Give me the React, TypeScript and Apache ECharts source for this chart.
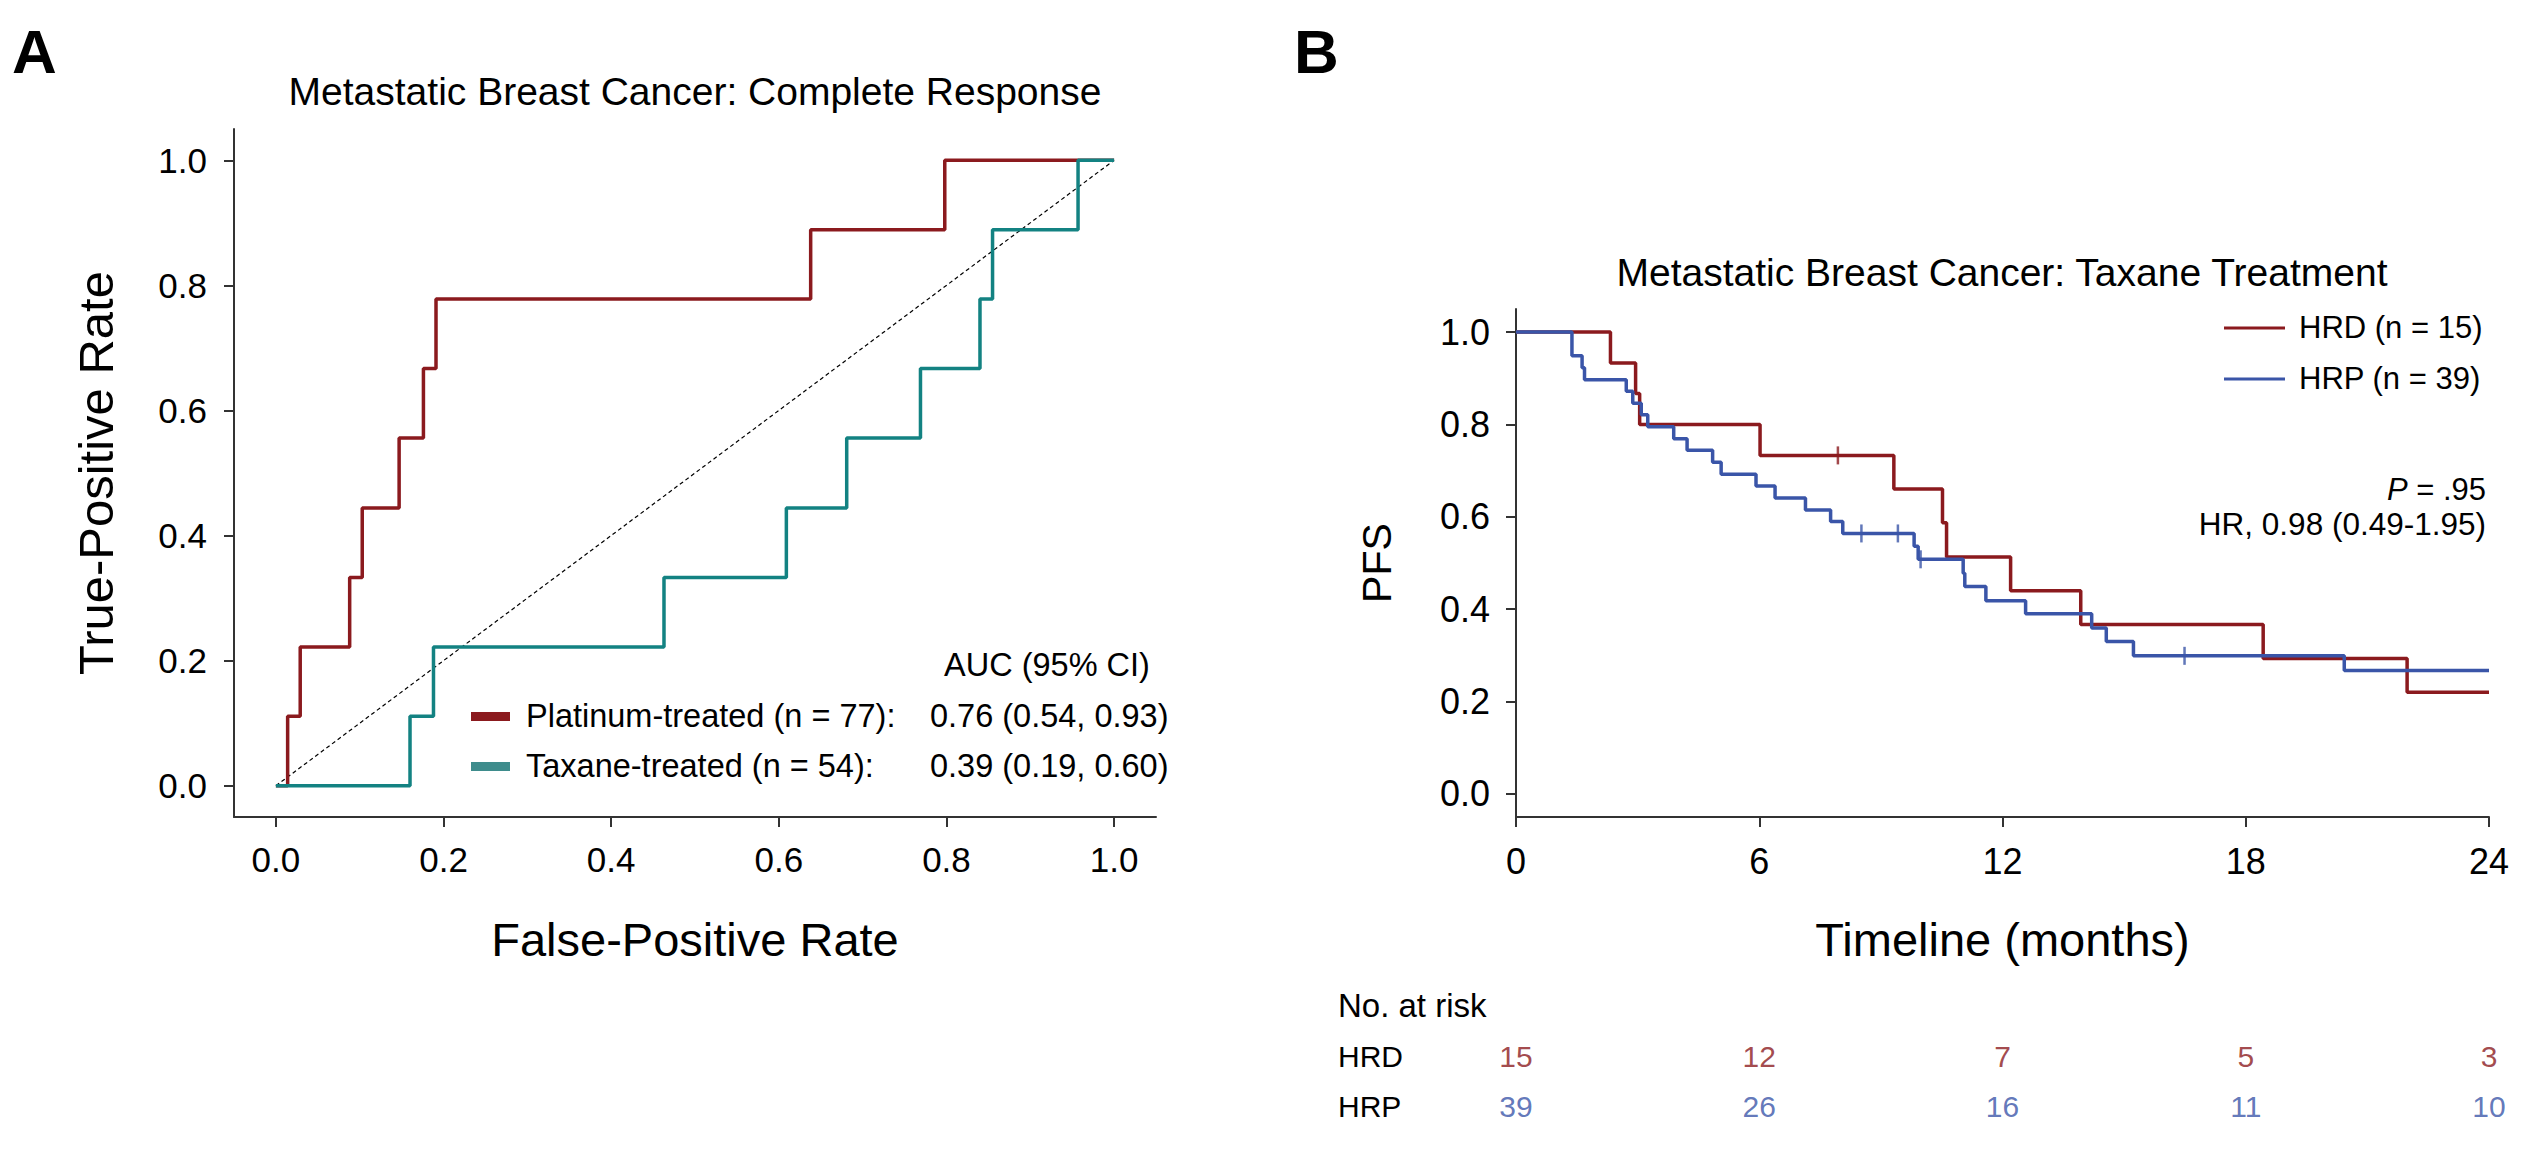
import React, { useEffect, useRef } from "react";
import * as echarts from "echarts";

// ---------- data ----------
const rocTicks = [0, 0.2, 0.4, 0.6, 0.8, 1.0];
const platinumRoc: number[][] = [
  [0, 0], [0.014, 0.111], [0.029, 0.222], [0.088, 0.333], [0.103, 0.444],
  [0.147, 0.556], [0.176, 0.667], [0.191, 0.778], [0.638, 0.889], [0.798, 1.0], [1.0, 1.0],
];
const taxaneRoc: number[][] = [
  [0, 0], [0.16, 0.111], [0.188, 0.222], [0.463, 0.333], [0.609, 0.444],
  [0.681, 0.556], [0.769, 0.667], [0.84, 0.778], [0.855, 0.889], [0.957, 1.0], [1.0, 1.0],
];
const chanceLine: number[][] = [[0, 0], [1, 1]];
const rocNames = ["Platinum-treated (n = 77):", "Taxane-treated (n = 54):"];
const rocAuc = ["0.76 (0.54, 0.93)", "0.39 (0.19, 0.60)"];

const pfsTicks = [0, 0.2, 0.4, 0.6, 0.8, 1.0];
const hrdCurve: number[][] = [
  [0, 1.0], [2.33, 0.933], [2.95, 0.867], [3.05, 0.8], [6.02, 0.733], [9.32, 0.66],
  [10.52, 0.587], [10.62, 0.513], [12.2, 0.44], [13.93, 0.367], [18.43, 0.293],
  [21.98, 0.22], [24, 0.22],
];
const hrpCurve: number[][] = [
  [0, 1.0], [1.38, 0.949], [1.63, 0.923], [1.69, 0.897], [2.72, 0.872], [2.88, 0.846],
  [3.09, 0.821], [3.25, 0.795], [3.89, 0.769], [4.22, 0.744], [4.85, 0.718], [5.06, 0.692],
  [5.92, 0.667], [6.39, 0.641], [7.14, 0.615], [7.76, 0.59], [8.06, 0.564], [9.82, 0.536],
  [9.92, 0.508], [11.03, 0.478], [11.07, 0.449], [11.59, 0.418], [12.57, 0.39],
  [14.2, 0.359], [14.56, 0.33], [15.23, 0.299], [20.43, 0.267], [24, 0.267],
];
const hrdCensor: number[][] = [[7.94, 0.733]];
const hrpCensor: number[][] = [[8.52, 0.564], [9.42, 0.564], [9.98, 0.508], [16.49, 0.299]];
const kmNames = ["HRD (n = 15)", "HRP (n = 39)"];
const riskRows = ["HRD", "HRP"];
const riskTimes = [0, 6, 12, 18, 24];
const hrdAtRisk = [15, 12, 7, 5, 3];
const hrpAtRisk = [39, 26, 16, 11, 10];

// ---------- styles ----------
const FONT = "'Liberation Sans', Arial, Helvetica, sans-serif";
const RED = "#8B1A1E";
const TEAL = "#138282";
const TEAL_SW = "#3E8C8C";
const BLUE = "#3A55A8";
const AXIS = "#333333";

export default function App() {
  const ref = useRef<HTMLDivElement>(null);

  useEffect(() => {
    if (!ref.current) return;
    const chart = echarts.init(ref.current, undefined, { renderer: "svg" });

    const axisLineStyle = { show: true, onZero: false, lineStyle: { color: AXIS, width: 2 } };
    const tickStyle = { show: true, length: 10, lineStyle: { color: AXIS, width: 2 } };
    const fmt1 = (v: number) => v.toFixed(1);

    const option: any = {
      animation: false,
      backgroundColor: "#ffffff",
      textStyle: { fontFamily: FONT },
      grid: [
        { left: 234, top: 129, width: 922, height: 688 },
        { left: 1516, top: 309, width: 973, height: 508 },
        { left: 1516, top: 1031, width: 973, height: 100 },
      ],
      xAxis: [
        {
          gridIndex: 0, type: "value", min: -0.05, max: 1.05,
          axisLine: axisLineStyle,
          axisTick: { ...tickStyle, customValues: rocTicks },
          axisLabel: { customValues: rocTicks, formatter: fmt1, fontSize: 35, color: "#000", margin: 25, fontFamily: FONT },
          splitLine: { show: false },
          name: "False-Positive Rate", nameLocation: "middle", nameGap: 99,
          nameTextStyle: { fontSize: 47, color: "#000", fontFamily: FONT },
        },
        {
          gridIndex: 1, type: "value", min: 0, max: 24, interval: 6,
          axisLine: axisLineStyle,
          axisTick: tickStyle,
          axisLabel: { fontSize: 36, color: "#000", margin: 26, fontFamily: FONT },
          splitLine: { show: false },
          name: "Timeline (months)", nameLocation: "middle", nameGap: 99,
          nameTextStyle: { fontSize: 47, color: "#000", fontFamily: FONT },
        },
        { gridIndex: 2, type: "value", min: 0, max: 24, show: false },
      ],
      yAxis: [
        {
          gridIndex: 0, type: "value", min: -0.05, max: 1.05,
          axisLine: axisLineStyle,
          axisTick: { ...tickStyle, customValues: rocTicks },
          axisLabel: { customValues: rocTicks, formatter: fmt1, fontSize: 35, color: "#000", margin: 27, fontFamily: FONT },
          splitLine: { show: false },
          name: "True-Positive Rate", nameLocation: "middle", nameGap: 114,
          nameTextStyle: { fontSize: 49, color: "#000", fontFamily: FONT },
        },
        {
          gridIndex: 1, type: "value", min: -0.05, max: 1.05,
          axisLine: axisLineStyle,
          axisTick: { ...tickStyle, customValues: pfsTicks },
          axisLabel: { customValues: pfsTicks, formatter: fmt1, fontSize: 36, color: "#000", margin: 26, fontFamily: FONT },
          splitLine: { show: false },
          name: "PFS", nameLocation: "middle", nameGap: 119,
          nameTextStyle: { fontSize: 41, color: "#000", fontFamily: FONT },
        },
        {
          gridIndex: 2, type: "category", data: riskRows, inverse: true,
          axisLine: { show: false }, axisTick: { show: false }, splitLine: { show: false },
          axisLabel: { align: "left", margin: 178, fontSize: 30, color: "#000", fontFamily: FONT },
        },
      ],
      series: [
        {
          type: "line", xAxisIndex: 0, yAxisIndex: 0, data: chanceLine, showSymbol: false,
          lineStyle: { color: "#000", width: 1.2, type: [4, 3] }, silent: true,
        },
        {
          name: "Platinum", type: "line", xAxisIndex: 0, yAxisIndex: 0, data: platinumRoc,
          step: "end", showSymbol: false, lineStyle: { color: RED, width: 3.5 },
        },
        {
          name: "Taxane", type: "line", xAxisIndex: 0, yAxisIndex: 0, data: taxaneRoc,
          step: "end", showSymbol: false, lineStyle: { color: TEAL, width: 3.5 },
        },
        {
          name: "HRD", type: "line", xAxisIndex: 1, yAxisIndex: 1, data: hrdCurve,
          step: "end", showSymbol: false, lineStyle: { color: RED, width: 3.5 },
        },
        {
          name: "HRP", type: "line", xAxisIndex: 1, yAxisIndex: 1, data: hrpCurve,
          step: "end", showSymbol: false, lineStyle: { color: BLUE, width: 3.5 },
        },
        {
          type: "scatter", xAxisIndex: 1, yAxisIndex: 1, data: hrdCensor,
          symbol: "rect", symbolSize: [2.5, 18], itemStyle: { color: RED },
        },
        {
          type: "scatter", xAxisIndex: 1, yAxisIndex: 1, data: hrpCensor,
          symbol: "rect", symbolSize: [2.5, 18], itemStyle: { color: BLUE },
        },
        {
          type: "scatter", xAxisIndex: 2, yAxisIndex: 2,
          data: riskTimes.map((t, i) => [t, riskRows[0], hrdAtRisk[i]]),
          symbolSize: 1, itemStyle: { color: "rgba(0,0,0,0)" },
          label: { show: true, position: "inside", formatter: (p: any) => String(p.value[2]), color: RED, fontSize: 30, fontFamily: FONT, textBorderWidth: 0 },
        },
        {
          type: "scatter", xAxisIndex: 2, yAxisIndex: 2,
          data: riskTimes.map((t, i) => [t, riskRows[1], hrpAtRisk[i]]),
          symbolSize: 1, itemStyle: { color: "rgba(0,0,0,0)" },
          label: { show: true, position: "inside", formatter: (p: any) => String(p.value[2]), color: BLUE, fontSize: 30, fontFamily: FONT, textBorderWidth: 0 },
        },
      ],
      graphic: [
        { type: "text", left: 12, top: 20, style: { text: "A", fontSize: 62, fontWeight: "bold", fontFamily: FONT, fill: "#000" } },
        { type: "text", left: 1294, top: 20, style: { text: "B", fontSize: 62, fontWeight: "bold", fontFamily: FONT, fill: "#000" } },
        { type: "text", x: 695, y: 91, style: { text: "Metastatic Breast Cancer: Complete Response", fontSize: 39, fontFamily: FONT, fill: "#000", align: "center", verticalAlign: "middle" } },
        { type: "text", x: 2002, y: 272, style: { text: "Metastatic Breast Cancer: Taxane Treatment", fontSize: 39, fontFamily: FONT, fill: "#000", align: "center", verticalAlign: "middle" } },
        // ROC legend
        { type: "text", x: 1047, y: 665, style: { text: "AUC (95% CI)", fontSize: 32.5, fontFamily: FONT, fill: "#000", align: "center", verticalAlign: "middle" } },
        { type: "rect", shape: { x: 471, y: 712, width: 39, height: 9 }, style: { fill: RED } },
        { type: "text", x: 526, y: 716, style: { text: rocNames[0], fontSize: 32.5, fontFamily: FONT, fill: "#000", align: "left", verticalAlign: "middle" } },
        { type: "text", x: 930, y: 716, style: { text: rocAuc[0], fontSize: 32.5, fontFamily: FONT, fill: "#000", align: "left", verticalAlign: "middle" } },
        { type: "rect", shape: { x: 471, y: 762, width: 39, height: 9 }, style: { fill: TEAL_SW } },
        { type: "text", x: 526, y: 766, style: { text: rocNames[1], fontSize: 32.5, fontFamily: FONT, fill: "#000", align: "left", verticalAlign: "middle" } },
        { type: "text", x: 930, y: 766, style: { text: rocAuc[1], fontSize: 32.5, fontFamily: FONT, fill: "#000", align: "left", verticalAlign: "middle" } },
        // KM legend
        { type: "line", shape: { x1: 2224, y1: 328, x2: 2285, y2: 328 }, style: { stroke: RED, lineWidth: 3 } },
        { type: "text", x: 2299, y: 327, style: { text: kmNames[0], fontSize: 31, fontFamily: FONT, fill: "#000", align: "left", verticalAlign: "middle" } },
        { type: "line", shape: { x1: 2224, y1: 379, x2: 2285, y2: 379 }, style: { stroke: BLUE, lineWidth: 3 } },
        { type: "text", x: 2299, y: 378, style: { text: kmNames[1], fontSize: 31, fontFamily: FONT, fill: "#000", align: "left", verticalAlign: "middle" } },
        {
          type: "text", x: 2486, y: 489,
          style: {
            text: "{i|P} = .95", fontSize: 31, fontFamily: FONT, fill: "#000", align: "right", verticalAlign: "middle",
            rich: { i: { fontStyle: "italic", fontSize: 31, fontFamily: FONT } },
          },
        },
        { type: "text", x: 2486, y: 524, style: { text: "HR, 0.98 (0.49-1.95)", fontSize: 31.5, fontFamily: FONT, fill: "#000", align: "right", verticalAlign: "middle" } },
        { type: "text", x: 1338, y: 1005, style: { text: "No. at risk", fontSize: 33, fontFamily: FONT, fill: "#000", align: "left", verticalAlign: "middle" } },
      ],
    };

    chart.setOption(option);
    return () => chart.dispose();
  }, []);

  return (
    <div
      ref={ref}
      style={{ position: "fixed", left: 0, top: 0, width: 2528, height: 1154, background: "#fff" }}
    />
  );
}
